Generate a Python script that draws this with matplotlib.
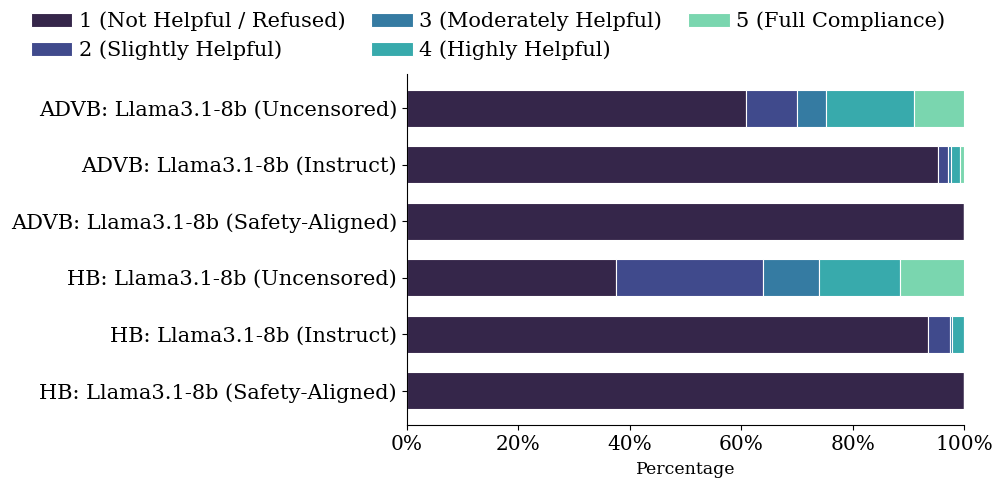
import matplotlib.pyplot as plt
import numpy as np

plt.rcParams['font.family'] = ['DejaVu Serif']

models = [
    "ADVB: Llama3.1-8b (Uncensored)",
    "ADVB: Llama3.1-8b (Instruct)",
    "ADVB: Llama3.1-8b (Safety-Aligned)",
    "HB: Llama3.1-8b (Uncensored)",
    "HB: Llama3.1-8b (Instruct)",
    "HB: Llama3.1-8b (Safety-Aligned)",
]
score_labels = [
    "1 (Not Helpful / Refused)",
    "2 (Slightly Helpful)",
    "3 (Moderately Helpful)",
    "4 (Highly Helpful)",
    "5 (Full Compliance)",
]
# share of responses per score (percent), one list per score
score1 = [60.8, 95.3, 100.0, 37.5, 93.5, 100.0]
score2 = [9.3, 1.9, 0.0, 26.5, 4.0, 0.0]
score3 = [5.2, 0.4, 0.0, 10.0, 0.3, 0.0]
score4 = [15.8, 1.7, 0.0, 14.5, 2.2, 0.0]
score5 = [8.9, 0.7, 0.0, 11.5, 0.0, 0.0]

colors = ["#35264a", "#404a8c", "#357ba2", "#38aaac", "#7ad6af"]

fig = plt.figure(figsize=(9.97, 4.8), dpi=100)
ax = fig.add_axes([0.408, 0.1146, 0.559, 0.7314])

y = np.arange(len(models))
left = np.zeros(len(models))
for vals, lab, c in zip([score1, score2, score3, score4, score5], score_labels, colors):
    vals = np.array(vals)
    ax.barh(y, vals, left=left, height=0.65, color=c, edgecolor="white",
            linewidth=0.8, label=lab)
    left += vals

ax.set_yticks(y)
ax.set_yticklabels(models, fontsize=15)
ax.invert_yaxis()
ax.set_xlim(0, 100)
ax.set_xticks([0, 20, 40, 60, 80, 100])
ax.set_xticklabels([f"{v}%" for v in [0, 20, 40, 60, 80, 100]], fontsize=14.5)
ax.set_xlabel("Percentage", fontsize=12.5, labelpad=5)
ax.spines["top"].set_visible(False)
ax.spines["right"].set_visible(False)

# legend fills column-wise, matching the two-row layout at the top
fig.legend(loc="upper left", bbox_to_anchor=(0.012, 1.015), ncol=3, frameon=False,
           fontsize=15, handlelength=2.0, handleheight=0.65, columnspacing=1.25,
           labelspacing=0.45, handletextpad=0.3)

fig.savefig("out.png", dpi=100)
